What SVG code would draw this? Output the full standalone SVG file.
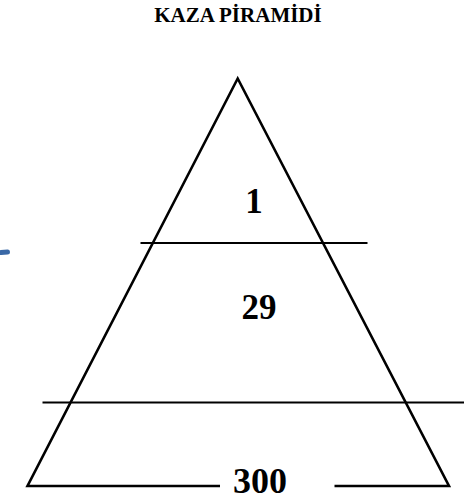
<svg xmlns="http://www.w3.org/2000/svg" width="472" height="500" viewBox="0 0 472 500">
<style>
.t{font-family:"Liberation Serif","Times New Roman",serif;font-weight:bold;fill:#000;text-anchor:middle}
.edge{fill:none;stroke:#000;stroke-width:2.6;stroke-linejoin:miter}
.cut{stroke:#000;stroke-width:2}
</style>
<rect width="472" height="500" fill="#fff"/>
<g id="title"><text class="t" x="238" y="22" font-size="21">KAZA PİRAMİDİ</text></g>
<g id="connectors">
<polyline class="edge" points="220,486 27.5,486 237.7,78.5 449,486 334.5,486"/>
<line class="cut" x1="140.5" y1="243" x2="367.5" y2="243"/>
<line class="cut" x1="42.5" y1="402.5" x2="464" y2="402.5"/>
</g>
<g id="level1"><text class="t" x="254" y="213" font-size="35">1</text></g>
<g id="level2"><text class="t" x="259" y="319" font-size="35">29</text></g>
<g id="level3"><text class="t" x="260" y="493" font-size="36">300</text></g>
<g id="mark"><path d="M1,252.5 L7.5,252" stroke="#3a68a6" stroke-width="5" stroke-linecap="round" fill="none"/></g>
</svg>
